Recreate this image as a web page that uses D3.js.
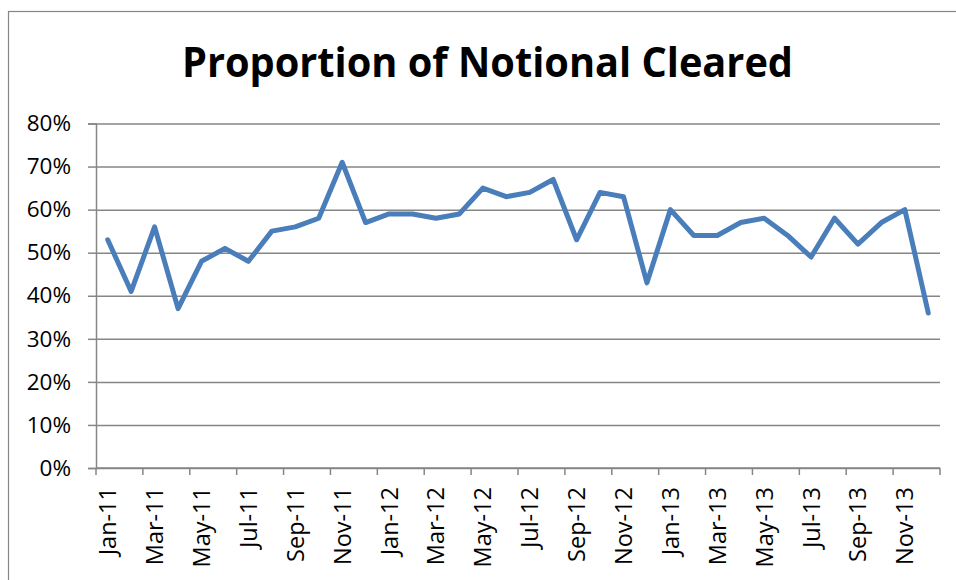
<!DOCTYPE html>
<html>
<head>
<meta charset="utf-8">
<script src="https://cdn.jsdelivr.net/npm/d3@7"></script>
<style>
  html, body { margin: 0; padding: 0; background: #fff; }
  svg { display: block; }
  text { font-family: "Open Sans", sans-serif; fill: #000; }
</style>
</head>
<body>
<svg id="chart" width="956" height="580"></svg>
<script>
const title = "Proportion of Notional Cleared";
const months = [
  "Jan-11","Feb-11","Mar-11","Apr-11","May-11","Jun-11","Jul-11","Aug-11","Sep-11","Oct-11","Nov-11","Dec-11",
  "Jan-12","Feb-12","Mar-12","Apr-12","May-12","Jun-12","Jul-12","Aug-12","Sep-12","Oct-12","Nov-12","Dec-12",
  "Jan-13","Feb-13","Mar-13","Apr-13","May-13","Jun-13","Jul-13","Aug-13","Sep-13","Oct-13","Nov-13","Dec-13"
];
const proportion = [
  0.53,0.41,0.56,0.37,0.48,0.51,0.48,0.55,0.56,0.58,0.71,0.57,
  0.59,0.59,0.58,0.59,0.65,0.63,0.64,0.67,0.53,0.64,0.63,0.43,
  0.60,0.54,0.54,0.57,0.58,0.54,0.49,0.58,0.52,0.57,0.60,0.36
];
const yTicks = [0,0.1,0.2,0.3,0.4,0.5,0.6,0.7,0.8];

const svg = d3.select("#chart");
const plotLeft = 96, plotRight = 940, plotTop = 123.5, plotBottom = 468;

// outer chart border
svg.append("rect")
  .attr("x", 8.5).attr("y", 11.5)
  .attr("width", 1000).attr("height", 1000)
  .attr("fill", "none").attr("stroke", "#868686").attr("stroke-width", 1.2);

svg.append("text")
  .attr("x", 487.5).attr("y", 77)
  .attr("text-anchor", "middle")
  .attr("font-size", 42).attr("font-weight", "bold")
  .attr("textLength", 611).attr("lengthAdjust", "spacingAndGlyphs")
  .text(title);

const x = d3.scaleBand().domain(months).range([plotLeft, plotRight]).paddingInner(0).paddingOuter(0);
const y = d3.scaleLinear().domain([0, 0.8]).range([plotBottom, plotTop]);

// gridlines + y axis
const yAxis = d3.axisLeft(y).tickValues(yTicks).tickFormat(d3.format(".0%")).tickSize(8).tickPadding(17);
const gy = svg.append("g").attr("transform", `translate(${plotLeft},0)`).call(yAxis);
gy.select(".domain").attr("stroke", "#868686").attr("stroke-width", 1.5);
gy.selectAll(".tick line").attr("stroke", "#868686").attr("stroke-width", 1.5);
gy.selectAll(".tick text").attr("font-size", 22.5).attr("font-family", "Open Sans").attr("fill", "#000");
gy.selectAll(".tick").append("line")
  .attr("x1", 0).attr("x2", plotRight - plotLeft)
  .attr("stroke", "#868686").attr("stroke-width", 1.5);

// x axis
const tickPositions = d3.range(0, months.length + 1, 2).map(i => plotLeft + i * x.bandwidth());
const gx = svg.append("g");
gx.append("line")
  .attr("x1", plotLeft).attr("x2", plotRight).attr("y1", plotBottom).attr("y2", plotBottom)
  .attr("stroke", "#868686").attr("stroke-width", 1.5);
gx.selectAll("line.tk").data(tickPositions).join("line").attr("class", "tk")
  .attr("x1", d => d).attr("x2", d => d).attr("y1", plotBottom).attr("y2", plotBottom + 7)
  .attr("stroke", "#868686").attr("stroke-width", 1.5);
gx.selectAll("text").data(months.filter((m, i) => i % 2 === 0)).join("text")
  .attr("transform", d => `translate(${x(d) + x.bandwidth() / 2},${plotBottom + 19}) rotate(-90)`)
  .attr("text-anchor", "end").attr("dy", "0.36em")
  .attr("font-size", 23.5)
  .text(d => d);

// line
const line = d3.line().x((d, i) => x(months[i]) + x.bandwidth() / 2).y(d => y(d));
svg.append("path").datum(proportion)
  .attr("d", line)
  .attr("fill", "none").attr("stroke", "#4a7ebb").attr("stroke-width", 5)
  .attr("stroke-linejoin", "round").attr("stroke-linecap", "round");
</script>
</body>
</html>
